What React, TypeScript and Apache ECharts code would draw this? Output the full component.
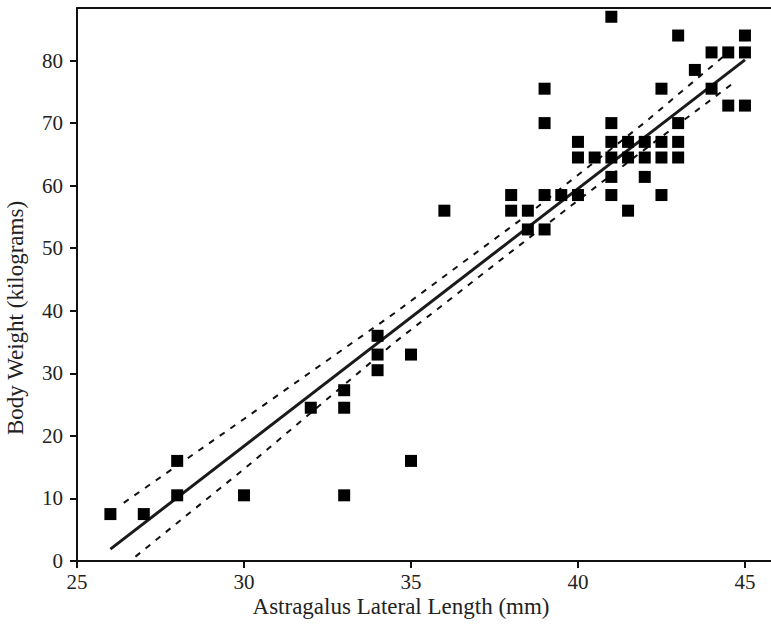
import React, { useEffect, useRef } from "react";
import * as echarts from "echarts";

const points: [number, number][] = [
  [26, 7.5], [27, 7.5], [28, 16], [28, 10.5], [30, 10.5], [32, 24.5],
  [33, 27.3], [33, 24.5], [33, 10.5], [34, 36], [34, 33], [34, 30.5],
  [35, 33], [35, 16], [36, 56],
  [38, 58.5], [38, 56], [38.5, 56], [38.5, 53], [39, 53], [39, 58.5], [39, 70], [39, 75.5],
  [39.5, 58.5], [40, 58.5], [40, 64.5], [40, 67], [40.5, 64.5],
  [41, 87], [41, 70], [41, 67], [41, 64.5], [41, 61.4], [41, 58.5],
  [41.5, 67], [41.5, 64.5], [41.5, 56],
  [42, 67], [42, 64.5], [42, 61.4],
  [42.5, 75.5], [42.5, 67], [42.5, 64.5], [42.5, 58.5],
  [43, 84], [43, 70], [43, 67], [43, 64.5],
  [43.5, 78.5], [44, 81.3], [44, 75.5], [44.5, 81.3], [44.5, 72.8],
  [45, 84], [45, 81.3], [45, 72.8],
];

const fitLine: [number, number][] = [[26, 1.9], [45, 80.1]];
const upperBand: [number, number][] = [
  [26.4, 9.3], [30, 22.7], [34.5, 39.6], [38.5, 55.4], [42, 70.1], [44.7, 82.2],
];
const lowerBand: [number, number][] = [
  [26.75, 0.7], [30, 14.7], [34.5, 34.9], [38.5, 51.5], [42, 65.8], [44.7, 76.6],
];

const xTitle = "Astragalus Lateral Length (mm)";
const yTitle = "Body Weight (kilograms)";

const FONT = "Liberation Serif";

export default function App() {
  const ref = useRef<HTMLDivElement>(null);
  useEffect(() => {
    if (!ref.current) return;
    const chart = echarts.init(ref.current, null, { renderer: "svg" });
    const axisText = { color: "#222", fontFamily: FONT, fontSize: 21 };
    chart.setOption({
      animation: false,
      backgroundColor: "#fff",
      grid: { left: 77, right: 0, top: 8, bottom: 63, outerBoundsMode: "none" },
      xAxis: [
        {
          type: "value",
          min: 25,
          max: 45.78,
          interval: 5,
          splitLine: { show: false },
          axisLine: { show: true, onZero: false, lineStyle: { color: "#111", width: 2 } },
          axisTick: { show: true, length: 7, lineStyle: { color: "#111", width: 2 } },
          axisLabel: { ...axisText, margin: 10, showMaxLabel: false },
        },
        {
          type: "value",
          position: "top",
          min: 25,
          max: 45.78,
          splitLine: { show: false },
          axisLine: { show: true, onZero: false, lineStyle: { color: "#111", width: 2 } },
          axisTick: { show: false },
          axisLabel: { show: false },
        },
      ],
      yAxis: {
        type: "value",
        min: 0,
        max: 88.4,
        interval: 10,
        splitLine: { show: false },
        axisLine: { show: true, onZero: false, lineStyle: { color: "#111", width: 2 } },
        axisTick: { show: true, length: 7, lineStyle: { color: "#111", width: 2 } },
        axisLabel: { ...axisText, margin: 14, showMaxLabel: false },
      },
      graphic: [
        {
          type: "text",
          x: 401,
          y: 595,
          style: {
            text: xTitle,
            fill: "#222",
            font: `23px '${FONT}'`,
            align: "center",
            verticalAlign: "top",
          },
        },
        {
          type: "text",
          x: 4,
          y: 318,
          rotation: Math.PI / 2,
          style: {
            text: yTitle,
            fill: "#222",
            font: `23px '${FONT}'`,
            align: "center",
            verticalAlign: "top",
          },
        },
      ],
      series: [
        {
          type: "line",
          data: upperBand,
          showSymbol: false,
          symbol: "none",
          lineStyle: { color: "#111", width: 2, type: [6, 7] },
          z: 2,
        },
        {
          type: "line",
          data: lowerBand,
          showSymbol: false,
          symbol: "none",
          lineStyle: { color: "#111", width: 2, type: [6, 7] },
          z: 2,
        },
        {
          type: "line",
          data: fitLine,
          showSymbol: false,
          symbol: "none",
          lineStyle: { color: "#1a1a1a", width: 3 },
          z: 3,
        },
        {
          type: "scatter",
          data: points,
          symbol: "rect",
          symbolSize: 12,
          itemStyle: { color: "#000", opacity: 1 },
          z: 4,
        },
      ],
    });
    return () => chart.dispose();
  }, []);
  return (
    <div
      ref={ref}
      style={{ position: "fixed", left: 0, top: 0, width: 771, height: 624 }}
    />
  );
}
